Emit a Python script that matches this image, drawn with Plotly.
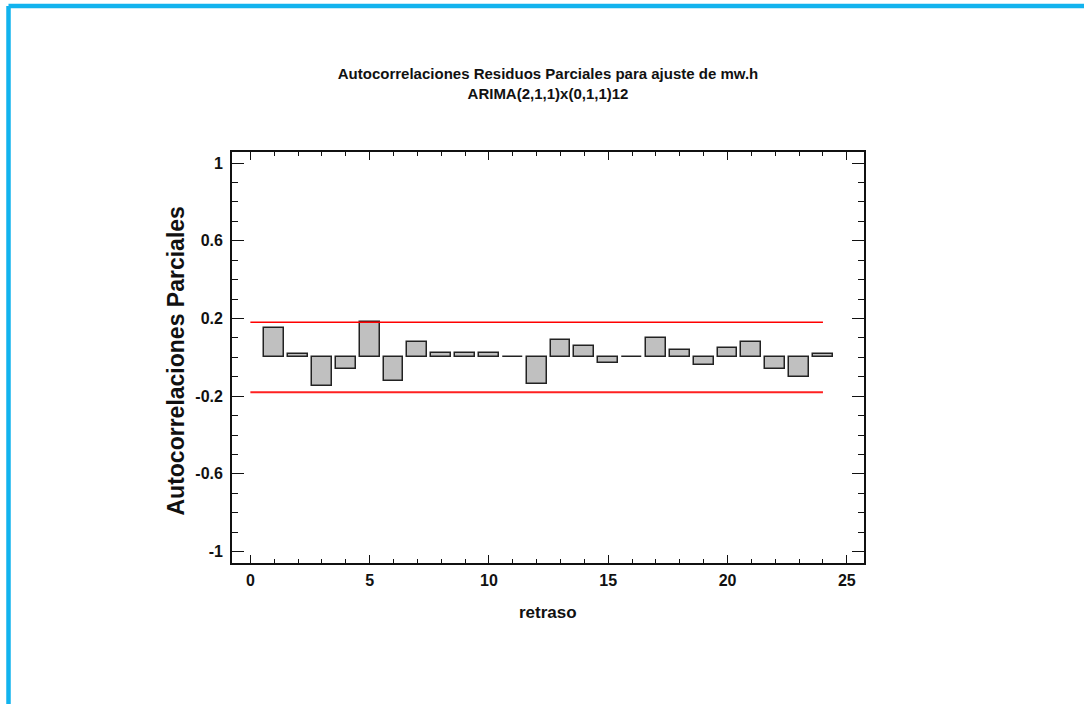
import plotly.graph_objects as go

lags = list(range(1, 25))
pacf = [0.151, 0.015, -0.148, -0.060, 0.181, -0.123, 0.079, 0.022, 0.022, 0.022,
        0.003, -0.139, 0.087, 0.058, -0.031, 0.002, 0.101, 0.036, -0.040, 0.050,
        0.079, -0.060, -0.103, 0.015]
limit_x = [0, 24]
upper_limit = [0.18, 0.18]
lower_limit = [-0.18, -0.18]

y_tick_vals = [-1, -0.6, -0.2, 0.2, 0.6, 1]
y_tick_text = ["-1", "-0.6", "-0.2", "0.2", "0.6", "1"]
x_tick_vals = [0, 5, 10, 15, 20, 25]
x_tick_text = ["0", "5", "10", "15", "20", "25"]

title_text = "Autocorrelaciones Residuos Parciales para ajuste de mw.h<br>ARIMA(2,1,1)x(0,1,1)12"
x_title = "retraso"
y_title = "Autocorrelaciones Parciales"

FONT = "Liberation Sans Narrow, Arial Narrow, Liberation Sans, Arial, sans-serif"
FONT_WIDE = "Liberation Sans, Arial, sans-serif"

fig = go.Figure()
fig.add_trace(go.Bar(
    x=lags, y=pacf, width=0.83,
    marker=dict(color="#c0c0c0", line=dict(color="#222222", width=1.5)),
    showlegend=False, hoverinfo="x+y"))
fig.add_trace(go.Scatter(x=limit_x, y=upper_limit, mode="lines",
                         line=dict(color="#ff0000", width=1.5), showlegend=False))
fig.add_trace(go.Scatter(x=limit_x, y=lower_limit, mode="lines",
                         line=dict(color="#ff2020", width=1.8), showlegend=False))

W, H = 1084, 704
L, R, T, B = 232, 220, 152, 141
pw, ph = W - L - R, H - T - B

def px_to_paper_x(px):
    return (px - L) / pw

def px_to_paper_y(py):
    return (H - B - py) / ph

fig.update_layout(
    width=W, height=H,
    margin=dict(l=L, r=R, t=T, b=B, pad=0),
    paper_bgcolor="white", plot_bgcolor="white",
    title=dict(text=title_text, x=0.5, xref="paper", xanchor="center",
               y=1 - 79 / H, yref="container", yanchor="middle",
               font=dict(family=FONT, size=15, color="#111111", weight="bold")),
    bargap=0,
    font=dict(family=FONT, color="#111111"),
)
fig.update_xaxes(
    range=[-0.77, 25.72], showgrid=False, zeroline=False,
    showline=True, linecolor="#111111", linewidth=1.8, mirror="ticks",
    ticks="inside", ticklen=8, tickwidth=1.3, tickcolor="#111111",
    tickmode="array", tickvals=x_tick_vals, ticktext=x_tick_text,
    minor=dict(ticks="inside", dtick=1, tick0=0, ticklen=4, tickwidth=1.2, tickcolor="#111111"),
    tickfont=dict(family=FONT, size=16, color="#111111", weight="bold"),
    ticklabelstandoff=2,
)
fig.update_yaxes(
    range=[-1.059, 1.057], showgrid=False, zeroline=False,
    showline=True, linecolor="#111111", linewidth=1.8, mirror="ticks",
    ticks="inside", ticklen=12, tickwidth=1.3, tickcolor="#111111",
    tickmode="array", tickvals=y_tick_vals, ticktext=y_tick_text,
    minor=dict(ticks="inside", dtick=0.1, tick0=-1, ticklen=6, tickwidth=1.2, tickcolor="#111111"),
    tickfont=dict(family=FONT, size=16, color="#111111", weight="bold"),
    ticklabelstandoff=4,
)

fig.add_annotation(text=y_title, textangle=-90, showarrow=False,
                   xref="paper", yref="paper",
                   x=px_to_paper_x(175), y=px_to_paper_y(361.5),
                   xanchor="center", yanchor="middle",
                   font=dict(family=FONT_WIDE, size=23, color="#111111", weight="bold"))
fig.add_annotation(text=x_title, showarrow=False,
                   xref="paper", yref="paper",
                   x=0.5, y=px_to_paper_y(612),
                   xanchor="center", yanchor="middle",
                   font=dict(family=FONT, size=17, color="#111111", weight="bold"))

# light-blue frame at top-left of the page
bx, by = px_to_paper_x(8.5), px_to_paper_y(6)
fig.add_shape(type="line", xref="paper", yref="paper", x0=bx, x1=bx, y0=-2, y1=by,
              line=dict(color="#12b3ee", width=4.5))
fig.add_shape(type="line", xref="paper", yref="paper", x0=bx, x1=3, y0=by, y1=by,
              line=dict(color="#12b3ee", width=4.5))

fig.write_html("out.html")
